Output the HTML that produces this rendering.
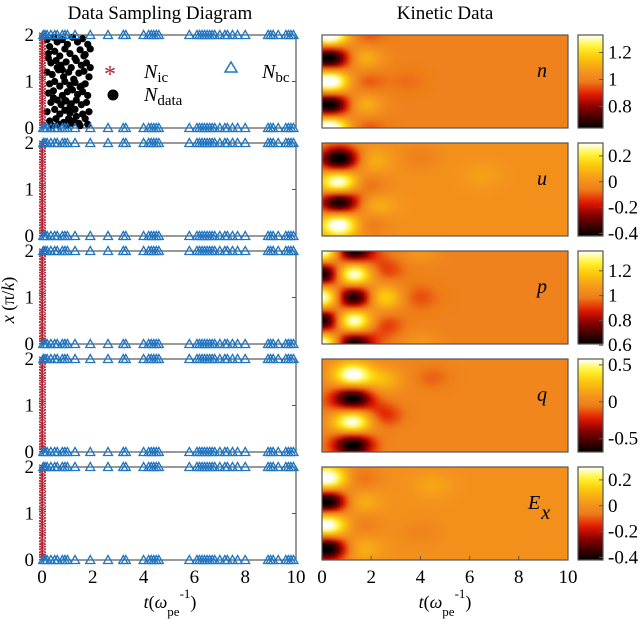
<!DOCTYPE html>
<html><head><meta charset="utf-8"><style>
html,body{margin:0;padding:0;background:#fff;}
svg text{font-family:"Liberation Serif","Times New Roman","DejaVu Serif",serif;}
</style></head><body>
<svg id="fig" width="640" height="627" viewBox="0 0 640 627" xmlns="http://www.w3.org/2000/svg">
<defs>
<filter id="blur" x="-10%" y="-10%" width="120%" height="120%"><feGaussianBlur stdDeviation="1.2"/></filter>
</defs>
<text x="160" y="19" font-size="19" text-anchor="middle">Data Sampling Diagram</text>
<text x="445" y="19" font-size="19" text-anchor="middle">Kinetic Data</text>
<text transform="translate(14,300) rotate(-90)" font-size="18" text-anchor="middle"><tspan font-style="italic">x</tspan> (π/<tspan font-style="italic">k</tspan>)</text>
<text x="170" y="608" font-size="18" text-anchor="middle"><tspan font-style="italic">t</tspan>(<tspan font-style="italic">ω</tspan><tspan dy="8" font-size="13">pe</tspan><tspan dy="-18" font-size="13">-1</tspan><tspan dy="10">)</tspan></text>
<text x="445" y="608" font-size="18" text-anchor="middle"><tspan font-style="italic">t</tspan>(<tspan font-style="italic">ω</tspan><tspan dy="8" font-size="13">pe</tspan><tspan dy="-18" font-size="13">-1</tspan><tspan dy="10">)</tspan></text>
<g id="left"></g>
<g id="right"></g>
</svg>
<script>
const xTicks = [0, 2, 4, 6, 8, 10];
const yTicks = [0, 1, 2];
const bcT = [0.05,0.12,0.2,0.35,0.5,0.6,0.8,0.9,1.0,1.3,1.9,2.6,3.2,3.3,4.0,4.2,4.3,4.4,4.5,4.6,5.8,6.1,6.2,6.3,6.4,6.5,6.6,6.7,6.8,7.0,7.2,7.3,7.5,7.7,8.0,8.9,9.0,9.1,9.3,9.6,9.7,9.8,9.9];
const icX = [0.02,0.07,0.12,0.18,0.25,0.3,0.36,0.42,0.5,0.55,0.6,0.68,0.74,0.8,0.86,0.92,1.0,1.05,1.1,1.17,1.24,1.3,1.36,1.42,1.5,1.55,1.6,1.66,1.72,1.78,1.84,1.9,1.96,2.0];
const dataT = [0.2,0.3,0.45,0.6,0.8,1.0,1.2,1.4,1.6,1.8,0.25,0.5,0.7,0.9,1.1,1.3,1.5,1.7,1.9,0.35,0.55,0.75,0.95,1.15,1.35,1.55,1.75,0.2,0.4,0.65,0.85,1.05,1.25,1.45,1.65,1.85,0.3,0.5,0.7,0.9,1.1,1.3,1.5,1.7,0.25,0.45,0.8,1.0,1.2,1.4,1.6,1.8,0.35,0.6,0.75,0.95,1.15,1.35,1.55,1.75,0.2,0.5,0.7,0.9,1.1,1.3,1.6,1.85,0.3,0.55,0.85,1.05,1.25,1.45,1.7,0.4,0.65,1.0,1.2,1.5,1.8,0.25,0.6,0.9,1.35,1.65,0.45,0.8,1.1,1.55,1.9];
const dataX = [1.9,1.75,1.95,1.85,1.9,1.8,1.95,1.85,1.92,1.8,1.6,1.65,1.55,1.7,1.6,1.5,1.68,1.58,1.7,1.4,1.45,1.35,1.42,1.3,1.45,1.35,1.4,1.2,1.15,1.25,1.1,1.2,1.05,1.18,1.22,1.1,0.95,1.0,0.9,1.0,0.92,0.98,0.88,0.95,0.75,0.8,0.7,0.78,0.82,0.72,0.78,0.7,0.55,0.6,0.5,0.58,0.52,0.6,0.5,0.55,0.35,0.4,0.3,0.38,0.32,0.4,0.3,0.35,0.15,0.2,0.12,0.2,0.15,0.1,0.2,0.05,0.08,0.06,0.1,0.05,0.08,1.5,1.3,0.6,0.25,1.55,0.65,1.25,0.45,0.9,1.3];
const fields = ['n','u','p','q','Ex'];
const cbMin = [0.64,-0.42,0.61,-0.68,-0.42];
const cbMax = [1.33,0.3,1.36,0.58,0.3];
const cbBg = [1.0,0.0,1.0,0.0,0.0];
const cbTicks = [[0.8,1,1.2],[-0.4,-0.2,0,0.2],[0.6,0.8,1,1.2],[-0.5,0,0.5],[-0.4,-0.2,0,0.2]];
const blobT = [
 [0.3,0.3,0.3,0.3,0.3,1.7,1.7,1.8,1.8,1.8,3.5],
 [0.7,0.7,0.7,0.7,2.0,1.8,2.2,1.9,4.0,6.5],
 [0.05,0.05,0.05,0.05,0.05,1.25,1.25,1.25,1.25,1.25,2.5,2.5,2.5,3.9,4.0,4.0],
 [1.25,1.25,1.25,1.25,2.5,2.5,4.5,0.1],
 [0.2,0.2,0.2,0.2,1.6,1.6,1.6,1.6,4.5,4.0]];
const blobX = [
 [2,1.5,1.0,0.5,0,1.5,0.5,1.0,2,0,1.0],
 [1.65,1.15,0.72,0.25,1.6,1.1,0.65,0.25,1.7,1.3],
 [2,1.5,1,0.5,0,2,1.5,1,0.5,0,1.0,1.6,0.4,1.0,2,0],
 [1.65,1.15,0.65,0.15,1.55,0.8,1.6,1.0],
 [1.75,1.25,0.75,0.25,1.75,1.25,0.75,0.25,1.6,0.6]];
const blobV = [
 [1.42,0.58,1.42,0.58,1.42,1.12,1.12,0.94,0.94,0.94,0.97],
 [-0.48,0.36,-0.46,0.36,0.08,-0.1,0.08,-0.08,-0.05,0.04],
 [1.42,0.56,1.42,0.56,1.42,0.56,1.42,0.56,1.42,0.56,1.22,0.9,0.9,0.93,1.07,1.07],
 [0.64,-0.74,0.64,-0.74,0.2,-0.22,-0.1,-0.05],
 [0.36,-0.48,0.36,-0.48,-0.08,0.08,-0.06,0.08,0.05,-0.04]];

const NS='http://www.w3.org/2000/svg';
function mk(tag, attrs, parent){const e=document.createElementNS(NS,tag);for(const k in attrs)e.setAttribute(k,attrs[k]);parent.appendChild(e);return e;}
const stops=[[0,[0,0,0]],[0.22,[130,0,0]],[0.36,[225,25,0]],[0.5,[238,125,25]],[0.6,[244,148,28]],[0.76,[252,200,10]],[0.88,[255,245,50]],[1,[255,255,255]]];
function cmap(v){v=Math.max(0,Math.min(1,v));for(let i=1;i<stops.length;i++){if(v<=stops[i][0]){const a=stops[i-1],b=stops[i];const f=(v-a[0])/(b[0]-a[0]);const c=a[1].map((x,j)=>Math.round(x+(b[1][j]-x)*f));return `rgb(${c[0]},${c[1]},${c[2]})`;}}return 'rgb(255,255,255)';}
const rowTop=i=>35+i*108, rowH=93;
const lx=t=>42+t*25.4, hx=t=>322+t*24.6;
const py=(i,x)=>rowTop(i)+rowH-x*rowH/2;

const L=document.getElementById('left'), R=document.getElementById('right'), defs=document.querySelector('defs');
for(let i=0;i<5;i++){
  const g=mk('g',{},L);
  
  
  const box=mk('rect',{x:lx(0),y:rowTop(i),width:lx(10)-lx(0),height:rowH,fill:'#fff',stroke:'#555','stroke-width':1.2},g);
  
  
  mk('line',{x1:lx(10)-4,x2:lx(10),y1:py(i,1),y2:py(i,1),stroke:'#555'},g);
  yTicks.forEach(v=>{const t=mk('text',{x:34,y:py(i,v)+6,'font-size':19,'text-anchor':'end'},g);t.textContent=v;
    
    });
  if(i===0){
    dataT.forEach((t,k)=>{const c=mk('circle',{cx:lx(t),cy:py(i,dataX[k]),r:3.6,fill:'#000'},g);
      
      });
  }
  icX.forEach(x=>{const s=mk('text',{x:lx(0)+0.5,y:py(i,x)+8,'font-size':18,fill:'#b22030','text-anchor':'middle','font-family':'Liberation Sans, sans-serif'},g);s.textContent='*';
    
    });
  [0,2].forEach(x=>bcT.forEach(t=>{const cx=lx(t),cy=py(i,x);
    const p=mk('polygon',{points:`${cx},${cy-4.5} ${cx-4.5},${cy+3.5} ${cx+4.5},${cy+3.5}`,fill:'none',stroke:'#1f77c4','stroke-width':1.3},g);
    
    }));
  if(i===4){xTicks.forEach(v=>{const t=mk('text',{x:lx(v),y:583,'font-size':19,'text-anchor':'middle'},g);t.textContent=v;
    
    });}
}
const lg=mk('g',{},L);


mk('text',{x:110,y:82,'font-size':24,fill:'#b22030','text-anchor':'middle','font-family':'Liberation Sans, sans-serif'},lg).textContent='*';
mk('polygon',{points:'231,62 225,72 237,72',fill:'none',stroke:'#1f77c4','stroke-width':1.5},lg);
mk('circle',{cx:113,cy:95,r:5.5,fill:'#000'},lg);
const l1=mk('text',{x:144,y:78,'font-size':20},lg);l1.innerHTML='<tspan font-style="italic">N</tspan><tspan dy="4" font-size="15">ic</tspan>';
const l2=mk('text',{x:262,y:78,'font-size':20},lg);l2.innerHTML='<tspan font-style="italic">N</tspan><tspan dy="4" font-size="15">bc</tspan>';
const l3=mk('text',{x:144,y:101,'font-size':20},lg);l3.innerHTML='<tspan font-style="italic">N</tspan><tspan dy="4" font-size="15">data</tspan>';

const labels=['n','u','p','q','E'];
const sT=0.55, sX=0.19, cell=3;
for(let i=0;i<5;i++){
  const g=mk('g',{},R);
  
  
  const cp=mk('clipPath',{id:'cp'+i},defs);
  mk('rect',{x:hx(0),y:rowTop(i),width:hx(10)-hx(0),height:rowH},cp);
  const inner=mk('g',{'clip-path':`url(#cp${i})`},g);
  const norm=v=>(v-cbMin[i])/(cbMax[i]-cbMin[i]);
  const cells=mk('g',{filter:'url(#blur)','shape-rendering':'crispEdges'},inner);
  for(let px=hx(0)-3;px<hx(10)+3;px+=cell){
    for(let pyy=rowTop(i)-3;pyy<rowTop(i)+rowH+3;pyy+=cell){
      const t=(px+cell/2-322)/24.6, x=(rowTop(i)+rowH-(pyy+cell/2))/(rowH/2);
      let v=cbBg[i];
      blobT[i].forEach((bt,k)=>{const dt=(t-bt)/sT, dx=(x-blobX[i][k])/sX;v+=(blobV[i][k]-cbBg[i])*Math.exp(-(dt*dt+dx*dx)/2);});
      mk('rect',{x:px,y:pyy,width:cell+0.5,height:cell+0.5,fill:cmap(norm(v))},cells);
    }
  }
  mk('rect',{x:hx(0),y:rowTop(i),width:hx(10)-hx(0),height:rowH,fill:'none',stroke:'#555','stroke-width':1.2},g);
  if(i===4){[2,4,6,8].forEach(v=>mk('line',{x1:hx(v),x2:hx(v),y1:rowTop(i)+rowH,y2:rowTop(i)+rowH-4,stroke:'#555'},g));
    xTicks.forEach(v=>{const t=mk('text',{x:hx(v),y:583,'font-size':19,'text-anchor':'middle'},g);t.textContent=v;
      
      });}
  const lab=mk('text',{x:i===4?528:537,y:rowTop(i)+42,'font-size':20,'font-style':'italic'},g);
  lab.textContent=labels[i];
  
  
  if(i===4){const s=mk('tspan',{dx:1,dy:10,'font-size':20},lab);s.textContent='x';}
  const gr=mk('linearGradient',{id:'gr'+i,x1:0,y1:1,x2:0,y2:0},defs);
  for(let k=0;k<=20;k++)mk('stop',{offset:k/20,'stop-color':cmap(k/20)},gr);
  const cb=mk('rect',{x:578,y:rowTop(i),width:25,height:rowH,fill:`url(#gr${i})`,stroke:'#555','stroke-width':1.2},g);
  
  
  cbTicks[i].forEach(v=>{const y=rowTop(i)+rowH-norm(v)*rowH;
    mk('line',{x1:599,x2:603,y1:y,y2:y,stroke:'#555'},g);
    const t=mk('text',{x:608,y:y+6,'font-size':19},g);t.textContent=v;
    
    });
}
</script>
</body></html>
